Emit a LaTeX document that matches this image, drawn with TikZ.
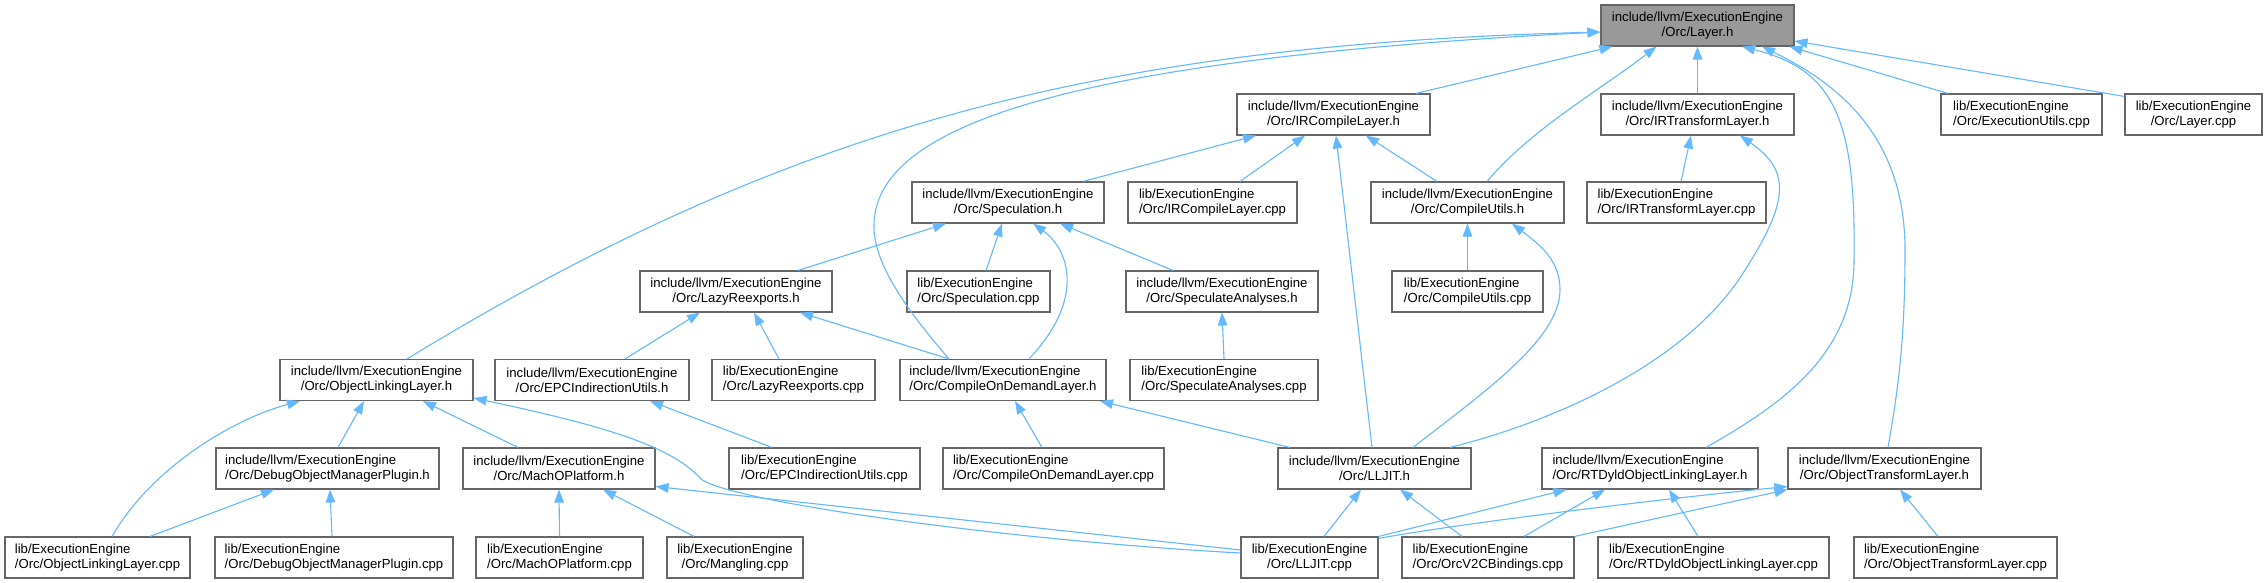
\documentclass[tikz,border=0pt]{standalone}
\usepackage{fontspec}
\setmainfont{Liberation Sans}
\usetikzlibrary{arrows.meta}
\definecolor{edgeblue}{HTML}{63B8FF}
\definecolor{boxborder}{HTML}{666666}
\definecolor{focusfill}{HTML}{999999}
\newcommand\twol[2]{\setbox0=\hbox{#1}\setbox2=\hbox{#2}\ifdim\wd0<\wd2 \hbox to \wd2{#1\hfil}\else\box0\fi\\#2}
\begin{document}
\begin{tikzpicture}[x=1pt,y=-1pt,
  box/.style={draw=boxborder, fill=white, line width=1.1pt, minimum height=41pt, inner xsep=2pt, inner ysep=0pt, align=center, font=\fontsize{13.15pt}{15pt}\selectfont},
  focus/.style={box, fill=focusfill},
  edge/.style={draw=edgeblue, line width=1.1pt, -{Triangle[length=13pt,width=9.5pt,fill=edgeblue]}}]
\fill[white] (0,0) rectangle (2268,583);
\useasboundingbox (0,0) rectangle (2268,583);
% row 1
\node[focus, minimum width=193pt] (layer) at (1697.5,25.5) {\twol{include/llvm/ExecutionEngine}{/Orc/Layer.h}};
% row 2
\node[box, minimum width=193pt] (ircl) at (1333.5,114.5) {\twol{include/llvm/ExecutionEngine}{/Orc/IRCompileLayer.h}};
\node[box, minimum width=193pt] (irtl) at (1697.5,114.5) {\twol{include/llvm/ExecutionEngine}{/Orc/IRTransformLayer.h}};
\node[box, minimum width=161pt] (eucpp) at (2021.5,114.5) {\twol{lib/ExecutionEngine}{/Orc/ExecutionUtils.cpp}};
\node[box, minimum width=137pt] (layercpp) at (2193.5,114.5) {\twol{lib/ExecutionEngine}{/Orc/Layer.cpp}};
% row 3
\node[box, minimum width=192pt] (spec) at (1008,202.5) {\twol{include/llvm/ExecutionEngine}{/Orc/Speculation.h}};
\node[box, minimum width=169pt] (irclcpp) at (1212.5,202.5) {\twol{lib/ExecutionEngine}{/Orc/IRCompileLayer.cpp}};
\node[box, minimum width=193pt] (cu) at (1467.5,202.5) {\twol{include/llvm/ExecutionEngine}{/Orc/CompileUtils.h}};
\node[box, minimum width=179pt] (irtlcpp) at (1676.5,202.5) {\twol{lib/ExecutionEngine}{/Orc/IRTransformLayer.cpp}};
% row 4
\node[box, minimum width=192pt] (lazy) at (736,291.5) {\twol{include/llvm/ExecutionEngine}{/Orc/LazyReexports.h}};
\node[box, minimum width=143pt] (speccpp) at (978.5,291.5) {\twol{lib/ExecutionEngine}{/Orc/Speculation.cpp}};
\node[box, minimum width=192pt] (sa) at (1222,291.5) {\twol{include/llvm/ExecutionEngine}{/Orc/SpeculateAnalyses.h}};
\node[box, minimum width=151pt] (cucpp) at (1467.5,291.5) {\twol{lib/ExecutionEngine}{/Orc/CompileUtils.cpp}};
% row 5
\node[box, minimum width=193pt] (oll) at (376.5,380) {\twol{include/llvm/ExecutionEngine}{/Orc/ObjectLinkingLayer.h}};
\node[box, minimum width=194pt] (epc) at (592,380) {\twol{include/llvm/ExecutionEngine}{/Orc/EPCIndirectionUtils.h}};
\node[box, minimum width=163pt] (lazycpp) at (793.5,380) {\twol{lib/ExecutionEngine}{/Orc/LazyReexports.cpp}};
\node[box, minimum width=206pt] (cod) at (1003,380) {\twol{include/llvm/ExecutionEngine}{/Orc/CompileOnDemandLayer.h}};
\node[box, minimum width=188pt] (sacpp) at (1224,380) {\twol{lib/ExecutionEngine}{/Orc/SpeculateAnalyses.cpp}};
% row 6
\node[box, minimum width=223pt] (dbg) at (327.5,468.5) {\twol{include/llvm/ExecutionEngine}{/Orc/DebugObjectManagerPlugin.h}};
\node[box, minimum width=192pt] (macho) at (559,468.5) {\twol{include/llvm/ExecutionEngine}{/Orc/MachOPlatform.h}};
\node[box, minimum width=191pt] (epccpp) at (824.5,468.5) {\twol{lib/ExecutionEngine}{/Orc/EPCIndirectionUtils.cpp}};
\node[box, minimum width=221pt] (codcpp) at (1053.5,468.5) {\twol{lib/ExecutionEngine}{/Orc/CompileOnDemandLayer.cpp}};
\node[box, minimum width=193pt] (lljit) at (1374.5,468.5) {\twol{include/llvm/ExecutionEngine}{/Orc/LLJIT.h}};
\node[box, minimum width=216pt] (rtd) at (1650,468.5) {\twol{include/llvm/ExecutionEngine}{/Orc/RTDyldObjectLinkingLayer.h}};
\node[box, minimum width=193pt] (otl) at (1884.5,468.5) {\twol{include/llvm/ExecutionEngine}{/Orc/ObjectTransformLayer.h}};
% row 7
\node[box, minimum width=185pt] (ollcpp) at (97.5,557.5) {\twol{lib/ExecutionEngine}{/Orc/ObjectLinkingLayer.cpp}};
\node[box, minimum width=238pt] (dbgcpp) at (334,557.5) {\twol{lib/ExecutionEngine}{/Orc/DebugObjectManagerPlugin.cpp}};
\node[box, minimum width=167pt] (machocpp) at (559.5,557.5) {\twol{lib/ExecutionEngine}{/Orc/MachOPlatform.cpp}};
\node[box, minimum width=136pt] (mangcpp) at (735,557.5) {\twol{lib/ExecutionEngine}{/Orc/Mangling.cpp}};
\node[box, minimum width=137pt] (lljitcpp) at (1309.5,557.5) {\twol{lib/ExecutionEngine}{/Orc/LLJIT.cpp}};
\node[box, minimum width=172pt] (orcv2) at (1488,557.5) {\twol{lib/ExecutionEngine}{/Orc/OrcV2CBindings.cpp}};
\node[box, minimum width=231pt] (rtdcpp) at (1713.5,557.5) {\twol{lib/ExecutionEngine}{/Orc/RTDyldObjectLinkingLayer.cpp}};
\node[box, minimum width=203pt] (otlcpp) at (1955.5,557.5) {\twol{lib/ExecutionEngine}{/Orc/ObjectTransformLayer.cpp}};
% edges to Layer.h
\draw[edge] ([xshift=30.5pt]oll.north) .. controls (790,125) and (1101,45) .. ([yshift=-6.5pt]layer.west);
\draw[edge] ([xshift=-54pt]cod.north) .. controls (905,308) and (873,262) .. (874,225) .. controls (875,130) and (1050,60) .. ([yshift=-6.5pt]layer.west);
\draw[edge] ([xshift=82.5pt]ircl.north) -- ([xshift=12pt]layer.south west);
\draw[edge] ([xshift=19.5pt]cu.north) .. controls (1530,130) and (1600,90) .. ([xshift=-41pt]layer.south);
\draw[edge] (irtl.north) -- (layer.south);
\draw[edge] ([xshift=56pt]rtd.north) .. controls (1790,400) and (1854,350) .. (1854,260) .. controls (1856,120) and (1835,70) .. ([xshift=44.5pt]layer.south);
\draw[edge] ([xshift=3.5pt]otl.north) .. controls (1900,380) and (1905,330) .. (1905,250) .. controls (1905,130) and (1830,80) .. ([xshift=64.5pt]layer.south);
\draw[edge] ([xshift=-73.5pt]eucpp.north) -- ([xshift=-5pt]layer.south east);
\draw[edge] ([yshift=-3pt]layercpp.north west) -- ([yshift=-15.5pt]layer.east);
% IRCompileLayer.h
\draw[edge] ([xshift=75pt]spec.north) -- ([xshift=-77.5pt]ircl.south);
\draw[edge] ([xshift=27.5pt]irclcpp.north) -- ([xshift=-28.5pt]ircl.south);
\draw[edge] ([xshift=-2.5pt]lljit.north) -- ([xshift=2.5pt]ircl.south);
\draw[edge] ([xshift=-30.5pt]cu.north) -- ([xshift=32.5pt]ircl.south);
% Speculation.h
\draw[edge] ([xshift=62pt]lazy.north) -- ([xshift=-62pt]spec.south);
\draw[edge] ([xshift=7.5pt]speccpp.north) -- ([xshift=-6pt]spec.south);
\draw[edge] ([xshift=26pt]cod.north) .. controls (1085,300) and (1070,250) .. ([xshift=25pt]spec.south);
\draw[edge] ([xshift=-49pt]sa.north) -- ([xshift=52pt]spec.south);
% CompileUtils.h
\draw[edge] (cucpp.north) -- (cu.south);
\draw[edge] ([xshift=38.5pt]lljit.north) .. controls (1480,395) and (1560,340) .. (1560,290) .. controls (1560,260) and (1540,245) .. ([xshift=44.5pt]cu.south);
% IRTransformLayer.h
\draw[edge] ([xshift=4.5pt]irtlcpp.north) -- ([xshift=-6.5pt]irtl.south);
\draw[edge] ([xshift=75.5pt]lljit.north) .. controls (1560,420) and (1690,360) .. (1745,270) .. controls (1790,200) and (1790,170) .. ([xshift=42.5pt]irtl.south);
% LazyReexports.h
\draw[edge] ([xshift=33pt]epc.north) -- ([xshift=-36pt]lazy.south);
\draw[edge] ([xshift=-14.5pt]lazycpp.north) -- ([xshift=18pt]lazy.south);
\draw[edge] ([xshift=-54pt]cod.north) -- ([xshift=64pt]lazy.south);
% SpeculateAnalyses.h
\draw[edge] (sacpp.north) -- (sa.south);
% ObjectLinkingLayer.h
\draw[edge] ([xshift=14.5pt]ollcpp.north) .. controls (150,470) and (230,420) .. ([xshift=-76.5pt]oll.south);
\draw[edge] ([xshift=10.5pt]dbg.north) -- ([xshift=-12.5pt]oll.south);
\draw[edge] ([xshift=-41pt]macho.north) -- ([xshift=46.5pt]oll.south);
\draw[edge] ([yshift=4.5pt]lljitcpp.west) .. controls (1000,540) and (720,500) .. (700,478) .. controls (670,445) and (600,425) .. ([yshift=-18pt]oll.east);
% EPCIndirectionUtils.h
\draw[edge] ([xshift=-52.5pt]epccpp.north) -- ([xshift=58pt]epc.south);
% CompileOnDemandLayer.h
\draw[edge] ([xshift=-11.5pt]codcpp.north) -- ([xshift=12pt]cod.south);
\draw[edge] ([xshift=-84.5pt]lljit.north) -- ([xshift=97pt]cod.south);
% DebugObjectManagerPlugin.h
\draw[edge] ([xshift=52.5pt]ollcpp.north) -- ([xshift=-53.5pt]dbg.south);
\draw[edge] ([xshift=-2pt]dbgcpp.north) -- ([xshift=2.5pt]dbg.south);
% MachOPlatform.h
\draw[edge] (machocpp.north) -- (macho.south);
\draw[edge] ([xshift=-41pt]mangcpp.north) -- ([xshift=44pt]macho.south);
\draw[edge] ([yshift=7.5pt]lljitcpp.west) -- ([yshift=-18pt]macho.east);
% LLJIT.h
\draw[edge] ([xshift=14.5pt]lljitcpp.north) -- ([xshift=-13.5pt]lljit.south);
\draw[edge] ([xshift=-26pt]orcv2.north) -- ([xshift=25.5pt]lljit.south);
% RTDyldObjectLinkingLayer.h
\draw[edge] (lljitcpp.north east) -- ([xshift=25pt]rtd.south west);
\draw[edge] ([xshift=36pt]orcv2.north) -- ([xshift=-45pt]rtd.south);
\draw[edge] ([xshift=-15.5pt]rtdcpp.north) -- ([xshift=19pt]rtd.south);
% ObjectTransformLayer.h
\draw[edge] ([yshift=-2pt]lljitcpp.north east) .. controls (1450,525) and (1650,500) .. ([yshift=3pt]otl.south west);
\draw[edge] (orcv2.north east) -- (otl.south west);
\draw[edge] ([xshift=-17.5pt]otlcpp.north) -- ([xshift=15.5pt]otl.south);
\end{tikzpicture}
\end{document}
